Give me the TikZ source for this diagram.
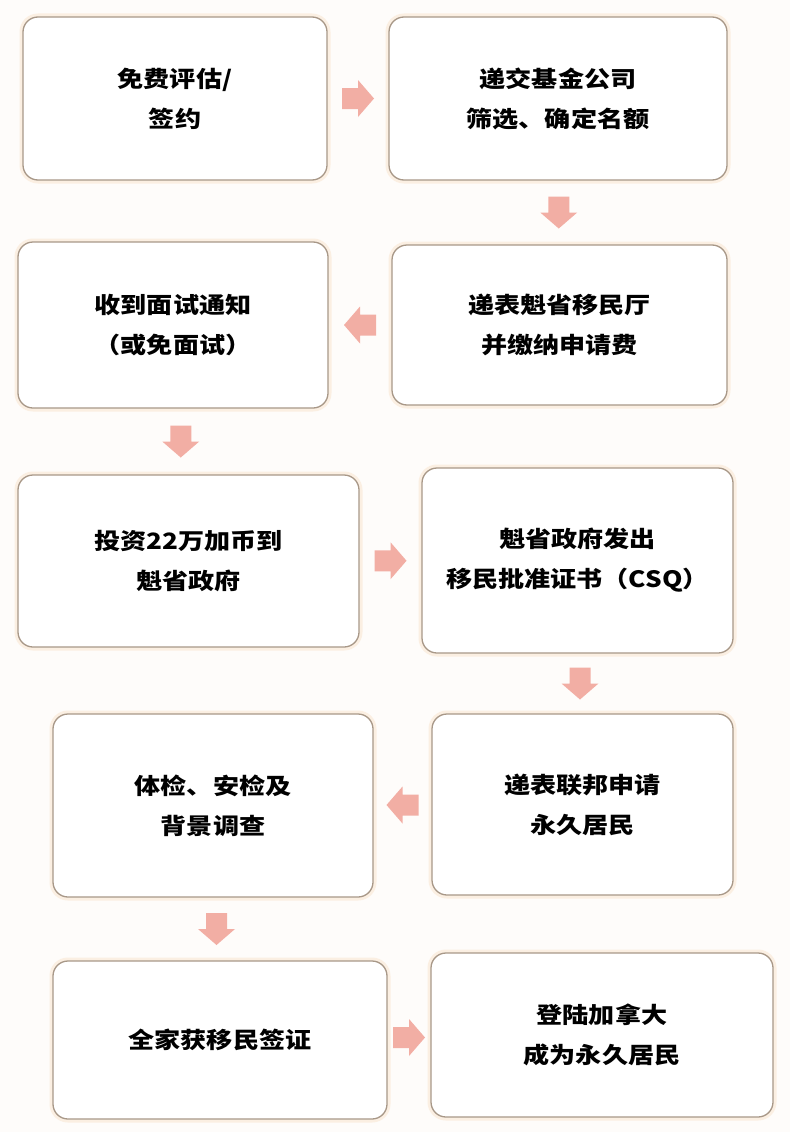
\documentclass[tikz,border=0pt]{standalone}
\usepackage{fontspec}
\newfontfamily\cjk[FakeStretch=1.16]{Noto Sans CJK SC}
\definecolor{boxline}{HTML}{A89888}
\definecolor{arrowpink}{HTML}{F2AEA4}
\definecolor{halo}{HTML}{FBEFE2}
\definecolor{bgcol}{HTML}{FEFCFA}
\tikzset{
  box/.style={draw=boxline, line width=1.3pt, rounded corners=15pt, fill=white,
    preaction={draw=halo, line width=7pt},
    align=center, inner sep=0pt,
    font=\cjk\bfseries\fontsize{22.5}{40}\selectfont},
  blk/.style={fill=arrowpink}
}
\newcommand{\blkarrow}[2]{\fill[blk, shift={(#1)}, rotate=#2] (-16,-10.5) -- (0,-10.5) -- (0,-18.5) -- (16,0) -- (0,18.5) -- (0,10.5) -- (-16,10.5) -- cycle;}
\begin{document}
\begin{tikzpicture}[x=1pt, y=-1pt]
\fill[bgcol] (0,0) rectangle (790,1132);
\useasboundingbox (0,0) rectangle (790,1132);
\node[box, minimum width=304pt, minimum height=163pt] (A) at (175,98.5) {免费评估/\\签约};
\node[box, minimum width=338pt, minimum height=163pt] (B) at (558,98.5) {递交基金公司\\筛选、确定名额};
\node[box, minimum width=335pt, minimum height=160pt] (C) at (559.5,325) {递表魁省移民厅\\并缴纳申请费};
\node[box, minimum width=310pt, minimum height=166pt] (D) at (173,325) {收到面试通知\\（或免面试）};
\node[box, minimum width=341pt, minimum height=172pt] (E) at (188.5,561) {投资22万加币到\\魁省政府};
\node[box, minimum width=311pt, minimum height=185pt] (F) at (577.5,560.5) {魁省政府发出\\移民批准证书（CSQ）};
\node[box, minimum width=301pt, minimum height=181pt] (G) at (582.5,804.5) {递表联邦申请\\永久居民};
\node[box, minimum width=320pt, minimum height=183pt] (H) at (213,805.5) {体检、安检及\\背景调查};
\node[box, minimum width=334pt, minimum height=158pt] (I) at (220,1040) {全家获移民签证};
\node[box, minimum width=342pt, minimum height=164pt] (J) at (602,1035) {登陆加拿大\\成为永久居民};
\path (A.east) -- (B.west) coordinate[midway] (ab);
\path (B.south) -- (C.north) coordinate[midway] (bc);
\path (C.west) -- (D.east) coordinate[midway] (cd);
\path (D.south) -- (E.north) coordinate[midway] (de);
\path (E.east) -- (F.west) coordinate[midway] (ef);
\path (F.south) -- (G.north) coordinate[midway] (fg);
\path (G.west) -- (H.east) coordinate[midway] (gh);
\path (H.south) -- (I.north) coordinate[midway] (hi);
\path (I.east) -- (J.west) coordinate[midway] (ij);
\blkarrow{ab}{0}
\blkarrow{bc}{-90}
\blkarrow{cd}{180}
\blkarrow{de}{-90}
\blkarrow{ef}{0}
\blkarrow{fg}{-90}
\blkarrow{gh}{180}
\blkarrow{hi}{-90}
\blkarrow{ij}{0}
\end{tikzpicture}
\end{document}
